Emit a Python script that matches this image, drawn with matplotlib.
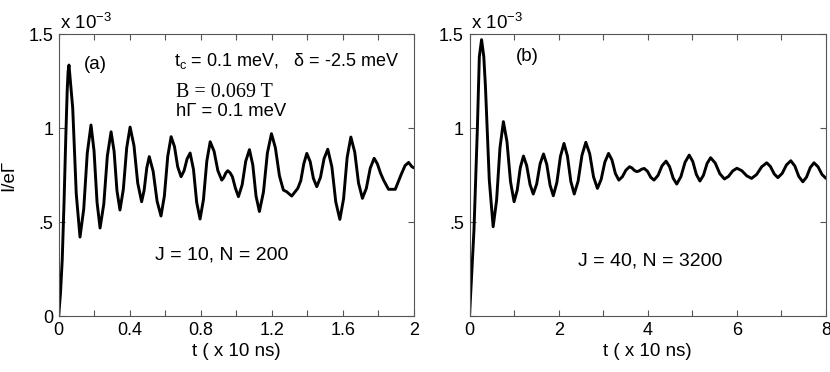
#!/usr/bin/env python3
"""Current transient I/eGamma vs time for two spin-chain sizes (panels a, b)."""

import matplotlib
matplotlib.use("Agg")
import matplotlib.pyplot as plt
from matplotlib import rcParams

rcParams.update({
    "font.family": ["Liberation Sans", "DejaVu Sans"],
    "mathtext.fontset": "custom",
    "mathtext.rm": "Liberation Sans",
    "mathtext.it": "Liberation Sans:italic",
    "font.size": 13,
    "xtick.labelsize": 13,
    "ytick.labelsize": 13,
    "xtick.direction": "in",
    "ytick.direction": "in",
    "xtick.top": True,
    "ytick.right": True,
    "xtick.major.size": 4,
    "ytick.major.size": 4,
    "xtick.major.pad": 4,
    "ytick.major.pad": 4,
    "axes.linewidth": 0.8,
})

# panel (a): J = 10, N = 200  (current in units of 1e-3)
t_a = [
    0.000, 0.010, 0.020, 0.030, 0.040, 0.048, 0.053, 0.058, 0.079, 0.099,
    0.120, 0.141, 0.161, 0.182, 0.199, 0.216, 0.233, 0.254, 0.274, 0.295,
    0.312, 0.328, 0.345, 0.364, 0.383, 0.402, 0.424, 0.445, 0.467, 0.481,
    0.496, 0.510, 0.532, 0.554, 0.576, 0.595, 0.614, 0.633, 0.652, 0.670,
    0.689, 0.706, 0.723, 0.740, 0.759, 0.777, 0.796, 0.815, 0.834, 0.853,
    0.875, 0.896, 0.918, 0.929, 0.941, 0.952, 0.965, 0.978, 0.995, 1.012,
    1.033, 1.053, 1.074, 1.093, 1.111, 1.130, 1.153, 1.175, 1.198, 1.220,
    1.243, 1.265, 1.284, 1.312, 1.346, 1.363, 1.380, 1.397, 1.416, 1.434,
    1.453, 1.474, 1.494, 1.515, 1.538, 1.560, 1.583, 1.604, 1.624, 1.645,
    1.667, 1.688, 1.710, 1.732, 1.754, 1.776, 1.794, 1.812, 1.829, 1.857,
    1.895, 1.927, 1.950, 1.970, 1.988, 2.000,
]
i_a = [
    0.000, 0.120, 0.300, 0.600, 0.950, 1.200, 1.300, 1.335, 1.106, 0.649,
    0.420, 0.569, 0.867, 1.016, 0.879, 0.605, 0.468, 0.596, 0.852, 0.980,
    0.876, 0.668, 0.564, 0.674, 0.895, 1.005, 0.906, 0.707, 0.608, 0.668,
    0.788, 0.848, 0.769, 0.611, 0.532, 0.638, 0.849, 0.954, 0.901, 0.794,
    0.741, 0.773, 0.836, 0.867, 0.779, 0.604, 0.516, 0.619, 0.824, 0.927,
    0.876, 0.774, 0.723, 0.736, 0.761, 0.773, 0.762, 0.741, 0.680, 0.635,
    0.698, 0.823, 0.885, 0.803, 0.638, 0.556, 0.660, 0.867, 0.970, 0.895,
    0.745, 0.670, 0.661, 0.638, 0.679, 0.720, 0.810, 0.865, 0.821, 0.732,
    0.688, 0.738, 0.837, 0.887, 0.794, 0.607, 0.514, 0.624, 0.843, 0.952,
    0.871, 0.708, 0.626, 0.679, 0.786, 0.839, 0.810, 0.760, 0.723, 0.674,
    0.674, 0.750, 0.800, 0.817, 0.795, 0.788,
]

# panel (b): J = 40, N = 3200
t_b = [
    0.000, 0.100, 0.175, 0.220, 0.270, 0.320, 0.357, 0.443, 0.530, 0.607,
    0.683, 0.760, 0.840, 0.920, 1.000, 1.070, 1.140, 1.210, 1.283, 1.357,
    1.430, 1.507, 1.583, 1.660, 1.733, 1.807, 1.880, 1.960, 2.040, 2.120,
    2.197, 2.273, 2.350, 2.437, 2.523, 2.610, 2.697, 2.783, 2.870, 2.953,
    3.037, 3.120, 3.197, 3.273, 3.350, 3.430, 3.510, 3.590, 3.643, 3.697,
    3.750, 3.807, 3.863, 3.920, 3.993, 4.067, 4.140, 4.230, 4.320, 4.410,
    4.490, 4.570, 4.650, 4.743, 4.837, 4.930, 5.010, 5.090, 5.170, 5.250,
    5.330, 5.410, 5.513, 5.617, 5.720, 5.813, 5.907, 6.000, 6.110, 6.220,
    6.330, 6.443, 6.557, 6.670, 6.753, 6.837, 6.920, 7.017, 7.113, 7.210,
    7.300, 7.390, 7.480, 7.563, 7.647, 7.730, 7.820, 7.910, 8.000,
]
i_b = [
    0.000, 0.460, 0.990, 1.380, 1.470, 1.380, 1.221, 0.724, 0.475, 0.615,
    0.894, 1.034, 0.928, 0.714, 0.608, 0.669, 0.790, 0.851, 0.800, 0.700,
    0.649, 0.702, 0.809, 0.862, 0.807, 0.696, 0.640, 0.710, 0.849, 0.918,
    0.851, 0.716, 0.649, 0.718, 0.855, 0.924, 0.863, 0.740, 0.679, 0.726,
    0.819, 0.865, 0.830, 0.758, 0.723, 0.741, 0.776, 0.794, 0.788, 0.775,
    0.768, 0.772, 0.781, 0.785, 0.770, 0.738, 0.723, 0.748, 0.799, 0.824,
    0.794, 0.733, 0.702, 0.741, 0.818, 0.856, 0.822, 0.753, 0.718, 0.749,
    0.811, 0.842, 0.814, 0.757, 0.729, 0.743, 0.772, 0.786, 0.773, 0.746,
    0.732, 0.753, 0.794, 0.815, 0.795, 0.756, 0.736, 0.759, 0.804, 0.826,
    0.798, 0.742, 0.714, 0.739, 0.790, 0.815, 0.794, 0.753, 0.732,
]

yticks = [0, 0.5, 1.0, 1.5]
yticklabels_a = ["0", ".5", "1", "1.5"]
yticklabels_b = ["", ".5", "1", "1.5"]
xticks_a = [0, 0.2, 0.4, 0.6, 0.8, 1.0, 1.2, 1.4, 1.6, 1.8, 2.0]
xticklabels_a = ["0", "", "0.4", "", "0.8", "", "1.2", "", "1.6", "", "2"]
xticks_b = [0, 1, 2, 3, 4, 5, 6, 7, 8]
xticklabels_b = ["0", "", "2", "", "4", "", "6", "", "8"]


def style_axes(ax, xmax, xticks, xticklabels, yticklabels):
    ax.set_xlim(0, xmax)
    ax.set_ylim(0, 1.5)
    ax.set_xticks(xticks)
    ax.set_xticklabels(xticklabels)
    ax.set_yticks(yticks)
    ax.set_yticklabels(yticklabels)
    for sp in ax.spines.values():
        sp.set_color("#555555")
    ax.tick_params(colors="#555555", labelcolor="black")
    ax.set_xlabel("t ( x 10 ns)", labelpad=3, fontsize=13.5)
    ax.text(0.004, 1.004, "x 10$^{-3}$", transform=ax.transAxes,
            ha="left", va="bottom", fontsize=13.5)


fig = plt.figure(figsize=(8.3, 3.72), dpi=100)
ax_a = fig.add_axes([0.0707, 0.1505, 0.428, 0.758])
ax_b = fig.add_axes([0.5657, 0.1505, 0.4295, 0.758])

line_kw = dict(color="black", lw=2.1, solid_joinstyle="round", solid_capstyle="round")

ax_a.plot(t_a, i_a, **line_kw)
style_axes(ax_a, 2.0, xticks_a, xticklabels_a, yticklabels_a)
ax_a.set_ylabel("I/e\u0393", labelpad=8, fontsize=13.5)
ax_a.text(0.205, 1.34, "(a)", ha="center", va="center", fontsize=13.5)
ax_a.text(0.65, 1.355, "t$_\\mathrm{c}$ = 0.1 meV,   \u03b4 = -2.5 meV",
          ha="left", va="center", fontsize=13)
ax_a.text(0.66, 1.19, "B = 0.069 T", ha="left", va="center",
          fontsize=14.5, family="Liberation Serif")
ax_a.text(0.66, 1.09, "h\u0393 = 0.1 meV", ha="left", va="center", fontsize=13.3)
ax_a.text(0.917, 0.327, "J = 10, N = 200", ha="center", va="center", fontsize=14)

ax_b.plot(t_b, i_b, **line_kw)
style_axes(ax_b, 8.0, xticks_b, xticklabels_b, yticklabels_b)
ax_b.text(1.30, 1.383, "(b)", ha="center", va="center", fontsize=13.5)
ax_b.text(4.05, 0.29, "J = 40, N = 3200", ha="center", va="center", fontsize=14)

fig.savefig("out.png", dpi=100)
plt.close(fig)
